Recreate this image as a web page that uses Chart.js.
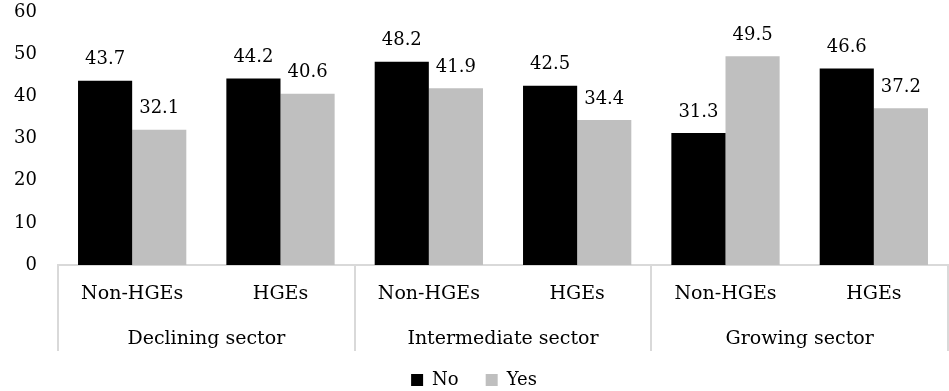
<!DOCTYPE html>
<html>
<head>
<meta charset="utf-8">
<script src="https://cdn.jsdelivr.net/npm/chart.js@4/dist/chart.umd.min.js"></script>
<style>
  html, body { margin: 0; padding: 0; background: #fff; }
  #wrap { width: 949px; height: 391px; }
</style>
</head>
<body>
<div id="wrap"><canvas id="c"></canvas></div>
<script>
const firms = ['Non-HGEs', 'HGEs', 'Non-HGEs', 'HGEs', 'Non-HGEs', 'HGEs'];
const sectors = ['Declining sector', 'Intermediate sector', 'Growing sector'];
const noValues = [43.7, 44.2, 48.2, 42.5, 31.3, 46.6];
const yesValues = [32.1, 40.6, 41.9, 34.4, 49.5, 37.2];
const yTicks = [0, 10, 20, 30, 40, 50, 60];

const FONT = "'DejaVu Serif', serif";
const LINE = '#d9d9d9';
const LEGEND_HEIGHT = 47;

// value labels above each bar
const valueLabels = {
  id: 'valueLabels',
  afterDatasetsDraw(chart) {
    const ctx = chart.ctx;
    ctx.save();
    ctx.font = '18px ' + FONT;
    ctx.fillStyle = '#000';
    ctx.textAlign = 'center';
    ctx.textBaseline = 'bottom';
    chart.data.datasets.forEach((ds, di) => {
      chart.getDatasetMeta(di).data.forEach((bar, i) => {
        ctx.fillText(ds.data[i].toFixed(1), bar.x, bar.y - 12);
      });
    });
    ctx.restore();
  }
};

// vertical separators between sector groups under the axis
const sectorLines = {
  id: 'sectorLines',
  afterDraw(chart) {
    const s = chart.scales.x2;
    const ctx = chart.ctx;
    const top = chart.chartArea.bottom;
    const bottom = s.top + 36;
    const half = (s.getPixelForValue(1) - s.getPixelForValue(0)) / 2;
    const xs = [s.getPixelForValue(0) - half];
    sectors.forEach((_, i) => xs.push(s.getPixelForValue(i) + half));
    ctx.save();
    ctx.strokeStyle = LINE;
    ctx.lineWidth = 2;
    xs.forEach(x => {
      const px = Math.round(x);
      ctx.beginPath();
      ctx.moveTo(px, top);
      ctx.lineTo(px, bottom);
      ctx.stroke();
    });
    ctx.restore();
  }
};

// fixed-height legend strip with widely spaced items; sector labels may overhang their box
const legendHeight = {
  id: 'legendHeight',
  beforeLayout(chart) {
    const lg = chart.legend;
    if (lg && !lg._fixedFit) {
      const fit = lg.fit.bind(lg);
      lg.fit = function () { fit(); this.height = LEGEND_HEIGHT; };
      lg._fixedFit = true;
    }
    const s = chart.scales.x2;
    if (s) s._computeLabelArea = () => undefined;
  }
};

new Chart(document.getElementById('c'), {
  type: 'bar',
  data: {
    labels: firms,
    datasets: [
      { label: 'No', data: noValues, backgroundColor: '#000000', xAxisID: 'x' },
      { label: 'Yes', data: yesValues, backgroundColor: '#bfbfbf', xAxisID: 'x' }
    ]
  },
  options: {
    responsive: true,
    maintainAspectRatio: false,
    animation: false,
    devicePixelRatio: 1,
    layout: { padding: { top: 12, right: 1, left: 0, bottom: 0 } },
    datasets: { bar: { categoryPercentage: 0.73, barPercentage: 1.0 } },
    plugins: {
      tooltip: { enabled: false },
      legend: {
        position: 'bottom',
        labels: {
          font: { family: FONT, size: 18 },
          color: '#000',
          boxWidth: 12,
          boxHeight: 12,
          padding: 27
        }
      }
    },
    scales: {
      y: {
        min: 0, max: 60,
        afterBuildTicks(scale) { scale.ticks = yTicks.map(v => ({ value: v })); },
        afterFit(scale) { scale.width = 58; },
        grid: { display: false, drawTicks: true, tickLength: 21 },
        border: { display: false },
        ticks: { font: { family: FONT, size: 18 }, color: '#000', padding: 0 }
      },
      x: {
        grid: { display: false, drawTicks: false },
        border: { display: true, color: LINE, width: 2 },
        ticks: { font: { family: FONT, size: 19 }, color: '#000', padding: 18, maxRotation: 0 },
        afterFit(scale) { scale.height = 50; }
      },
      x2: {
        type: 'category',
        labels: sectors,
        offset: true,
        position: 'bottom',
        grid: { display: false, drawTicks: false },
        border: { display: false },
        ticks: { font: { family: FONT, size: 19 }, color: '#000', padding: 13, maxRotation: 0 },
        afterFit(scale) { scale.height = 29; }
      }
    }
  },
  plugins: [valueLabels, sectorLines, legendHeight]
});
</script>
</body>
</html>
